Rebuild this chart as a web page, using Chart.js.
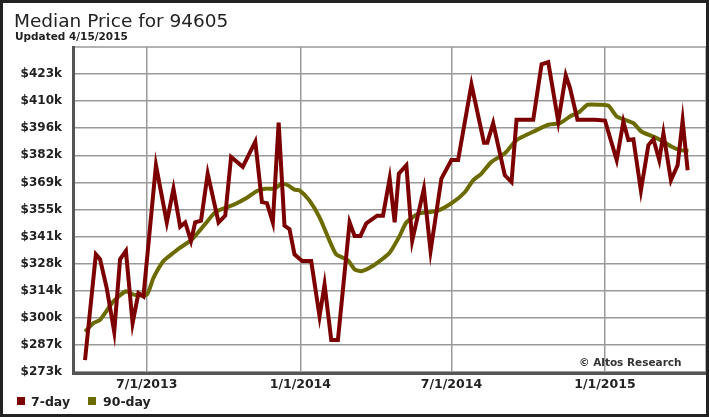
<!DOCTYPE html>
<html>
<head>
<meta charset="utf-8">
<script src="https://cdn.jsdelivr.net/npm/chart.js@4.4.1/dist/chart.umd.min.js"></script>
<style>
  html, body { margin: 0; padding: 0; background: #fff; }
  #wrap { position: relative; width: 709px; height: 417px; }
</style>
</head>
<body>
<div id="wrap"><canvas id="priceChart" width="709" height="417"></canvas></div>
<script>
// days counted from 7/1/2013, prices in $k
const days7 = [-74, -61, -56, -48, -39, -32, -25, -17, -10, -4, 11, 24, 32, 40, 46, 53, 58, 65, 73, 86, 94, 101, 115, 130, 138, 144, 151, 158, 165, 171, 177, 186, 197, 207, 213, 221, 229, 243, 249, 256, 263, 276, 283, 291, 297, 302, 311, 318, 332, 340, 353, 365, 373, 389, 404, 408, 415, 429, 437, 443, 463, 473, 481, 493, 502, 507, 516, 537, 549, 563, 571, 577, 583, 592, 601, 607, 614, 619, 628, 636, 642, 648];
const price7 = [279, 332.3, 329.9, 315.3, 293.3, 329.8, 334, 297.6, 312.8, 311.1, 377.2, 348.4, 365.4, 346.2, 348.4, 339.1, 348.4, 349.3, 373, 348.4, 351.8, 381.4, 376.4, 389.1, 358.6, 358.1, 348.4, 398.7, 346.7, 345, 332.3, 328.9, 328.9, 301, 317.1, 289.1, 289.1, 348.4, 341.6, 341.6, 347.9, 351.8, 351.8, 370.5, 348.4, 373, 377.2, 339.1, 365.4, 334, 370.5, 379.8, 379.8, 417.9, 388.6, 388.6, 398.4, 372.1, 368.7, 400.1, 400.1, 428.1, 429.2, 399.2, 422.5, 416.2, 400.1, 400.1, 399.7, 379.8, 399.2, 389.9, 390.3, 364.5, 387.4, 390.3, 379.8, 393.3, 369.6, 377.2, 399.7, 374.7];

const days90 = [-74, -64, -56, -40, -25, -16, 0, 8, 20, 32, 40, 52, 58, 70, 82, 94, 106, 121, 132, 142, 153, 162, 169, 177, 183, 195, 207, 219, 227, 241, 249, 257, 267, 279, 291, 303, 311, 325, 337, 349, 367, 381, 391, 401, 413, 429, 443, 463, 481, 495, 507, 519, 528, 543, 553, 563, 573, 583, 593, 607, 619, 629, 639, 649];
const price90 = [293.3, 297.6, 299.3, 308.6, 313.7, 312, 312, 320.4, 328.9, 333.1, 335.7, 339.1, 341.6, 347.6, 353.5, 355.7, 357.7, 361.1, 364.2, 365.4, 365.4, 367.9, 367.1, 364.9, 364.5, 359.4, 350.9, 339.1, 332.3, 329.3, 324.7, 323.8, 325.5, 328.9, 333.1, 341.6, 348.4, 352.7, 353.5, 354.3, 358.6, 363.6, 369.6, 373, 378.9, 383.2, 389.9, 394.1, 397.6, 398.4, 401.8, 404.3, 407.7, 407.7, 407.2, 401.8, 400.1, 398.4, 394.1, 391.6, 389.1, 386.5, 384.8, 384.5];

const xTicks = [0, 184, 365, 549];
const xTickLabels = ["7/1/2013", "1/1/2014", "7/1/2014", "1/1/2015"];
const yTicks = [273, 286.65, 300.3, 313.95, 327.6, 341.25, 354.9, 368.55, 382.2, 395.85, 409.5, 423.15];
const yTickLabels = ["$273k", "$287k", "$300k", "$314k", "$328k", "$341k", "$355k", "$369k", "$382k", "$396k", "$410k", "$423k"];

const red = "#7d0000";
const olive = "#6b6b00";

function toPoints(xs, ys) {
  return xs.map((x, i) => ({ x: x, y: ys[i] }));
}

// titre, cadre, légende et copyright
const decor = {
  id: "decor",
  beforeDraw(chart) {
    const ctx = chart.ctx;
    ctx.save();
    ctx.fillStyle = "#fff";
    ctx.fillRect(0, 0, chart.width, chart.height);
    ctx.restore();
  },
  afterDraw(chart) {
    const ctx = chart.ctx;
    const a = chart.chartArea;
    ctx.save();
    // cadre du graphique
    ctx.strokeStyle = "#9a9a9a";
    ctx.lineWidth = 1.5;
    ctx.beginPath();
    ctx.moveTo(a.left, a.top); ctx.lineTo(a.right, a.top); ctx.lineTo(a.right, a.bottom);
    ctx.stroke();
    ctx.strokeStyle = "#555";
    ctx.lineWidth = 3;
    ctx.beginPath();
    ctx.moveTo(a.left - 1.5, a.top - 1); ctx.lineTo(a.left - 1.5, a.bottom + 1.5); ctx.lineTo(a.right + 1, a.bottom + 1.5);
    ctx.stroke();

    // bordure extérieure
    ctx.strokeStyle = "#222";
    ctx.lineWidth = 3;
    ctx.strokeRect(1.5, 1.5, chart.width - 3, chart.height - 3);

    ctx.fillStyle = "#222";
    ctx.textBaseline = "alphabetic";
    ctx.textAlign = "left";
    ctx.font = "18.5px 'DejaVu Sans'";
    ctx.fillText("Median Price for 94605", 14, 27);
    ctx.font = "bold 10.5px 'DejaVu Sans'";
    ctx.fillText("Updated 4/15/2015", 15, 40);

    ctx.font = "bold 10.5px 'DejaVu Sans'";
    ctx.fillStyle = "#333";
    ctx.fillText("\u00A9 Altos Research", 579, 366);

    // légende
    ctx.font = "bold 12.5px 'DejaVu Sans'";
    ctx.fillStyle = red;
    ctx.fillRect(17, 397, 8, 8);
    ctx.fillStyle = "#222";
    ctx.fillText("7-day", 31, 406);
    ctx.fillStyle = olive;
    ctx.fillRect(88, 397, 8, 8);
    ctx.fillStyle = "#222";
    ctx.fillText("90-day", 103, 406);
    ctx.restore();
  }
};

new Chart(document.getElementById("priceChart"), {
  type: "line",
  data: {
    datasets: [
      { label: "7-day", data: toPoints(days7, price7), borderColor: red, borderWidth: 4, pointRadius: 0, tension: 0, borderJoinStyle: "miter" },
      { label: "90-day", data: toPoints(days90, price90), borderColor: olive, borderWidth: 4, pointRadius: 0, tension: 0.2 }
    ]
  },
  options: {
    responsive: false,
    animation: false,
    layout: { padding: { left: 0, top: 47, right: 3, bottom: 0 } },
    plugins: { legend: { display: false }, tooltip: { enabled: false } },
    scales: {
      x: {
        type: "linear",
        min: -86,
        max: 670,
        afterFit(scale) { scale.height = 45; },
        afterBuildTicks(axis) { axis.ticks = xTicks.map(v => ({ value: v })); },
        grid: { color: "#9a9a9a", lineWidth: 1.5, drawTicks: false },
        border: { display: false },
        ticks: {
          autoSkip: false,
          maxRotation: 0,
          padding: 5,
          color: "#222",
          font: { family: "DejaVu Sans", size: 12.5, weight: "bold" },
          callback: (v, i) => xTickLabels[i]
        }
      },
      y: {
        min: 273,
        max: 436.8,
        afterFit(scale) { scale.width = 75; },
        afterBuildTicks(axis) { axis.ticks = yTicks.map(v => ({ value: v })); },
        grid: { color: "#9a9a9a", lineWidth: 1.5, drawTicks: false },
        border: { display: false },
        ticks: {
          autoSkip: false,
          padding: 13,
          color: "#222",
          font: { family: "DejaVu Sans", size: 12, weight: "bold" },
          callback: (v, i) => yTickLabels[i]
        }
      }
    }
  },
  plugins: [decor]
});
</script>
</body>
</html>
